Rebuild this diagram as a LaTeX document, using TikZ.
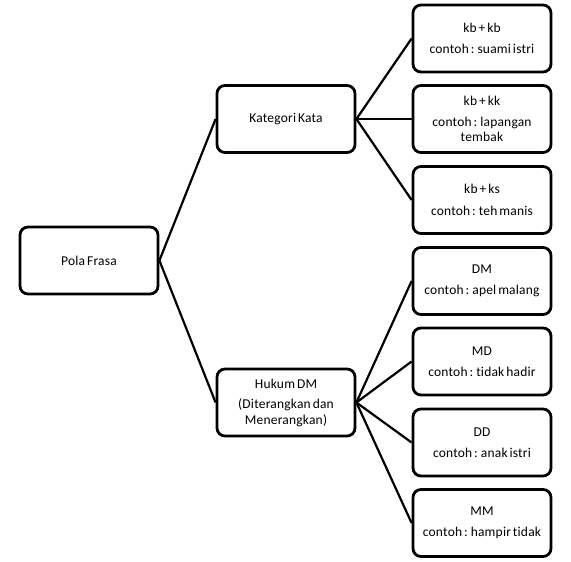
\documentclass[tikz,border=0pt]{standalone}
\usepackage{fontspec}
\setmainfont{Carlito}[LetterSpace=1.5, WordSpace=0.6, Ligatures={NoCommon}]
\begin{document}
\begin{tikzpicture}[x=1pt,y=-1pt,
  box/.style={draw=black, line width=2.8pt, rounded corners=8pt, fill=white,
    minimum width=138pt, minimum height=67pt, align=center, inner sep=2pt,
    font=\fontsize{13.5}{15.5}\selectfont},
  link/.style={line width=2.2pt}]
\useasboundingbox[fill=white] (0,0) rectangle (571,562);
\node[box] (pola) at (89,260.5) {Pola Frasa};
\node[box] (kat) at (286,119) {Kategori Kata};
\node[box] (huk) at (286,402.5) {Hukum DM\\[5pt](Diterangkan dan\\Menerangkan)};
\node[box] (a1) at (482,38.5) {kb + kb\\[6pt]contoh : suami istri};
\node[box] (a2) at (482,119) {kb + kk\\[5pt]contoh : lapangan\\tembak};
\node[box] (a3) at (482,200) {kb + ks\\[6pt]contoh : teh manis};
\node[box] (b1) at (482,281) {DM\\[6pt]contoh : apel malang};
\node[box] (b2) at (482,361.5) {MD\\[6pt]contoh : tidak hadir};
\node[box] (b3) at (482,442.5) {DD\\[6pt]contoh : anak istri};
\node[box] (b4) at (482,523) {MM\\[6pt]contoh : hampir tidak};
\draw[link] (pola.east) -- (kat.west);
\draw[link] (pola.east) -- (huk.west);
\foreach \n in {a1,a2,a3} \draw[link] (kat.east) -- (\n.west);
\foreach \n in {b1,b2,b3,b4} \draw[link] (huk.east) -- (\n.west);
\end{tikzpicture}
\end{document}
